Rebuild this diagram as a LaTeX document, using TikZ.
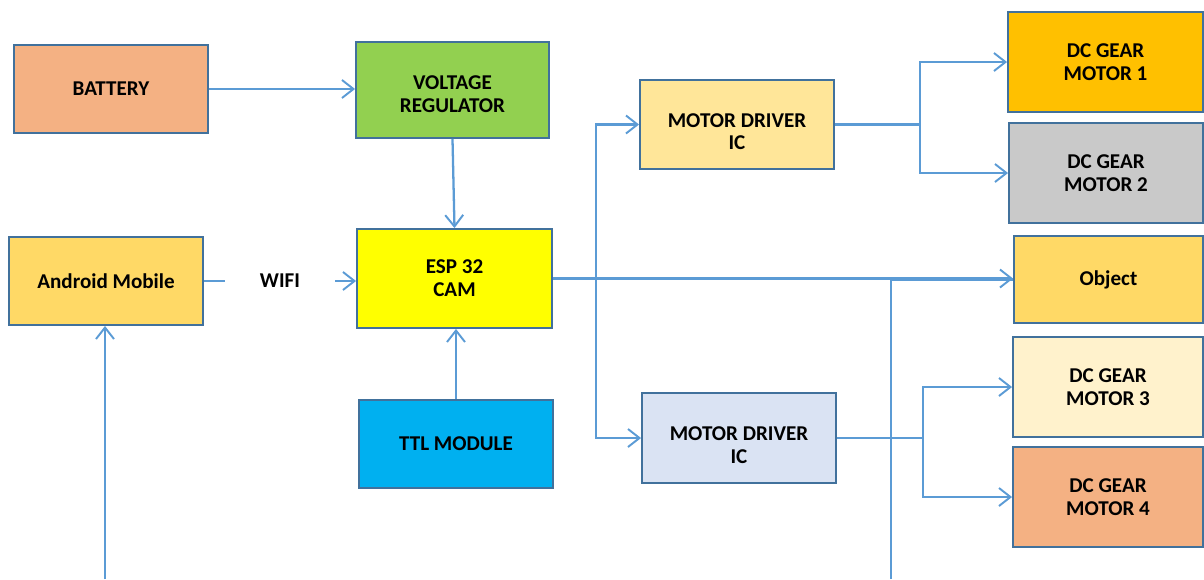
\documentclass[tikz,border=0pt]{standalone}
\usepackage{fontspec}
\setmainfont{Carlito}
\usetikzlibrary{arrows.meta}
\definecolor{boxline}{RGB}{65,113,156}
\definecolor{wire}{RGB}{91,155,213}
\definecolor{battfill}{RGB}{244,177,131}
\definecolor{regfill}{RGB}{146,208,80}
\definecolor{mobfill}{RGB}{255,217,102}
\definecolor{espfill}{RGB}{255,255,0}
\definecolor{ttlfill}{RGB}{0,176,240}
\definecolor{drvafill}{RGB}{255,230,153}
\definecolor{drvbfill}{RGB}{218,227,243}
\definecolor{motafill}{RGB}{255,192,0}
\definecolor{motbfill}{RGB}{201,201,201}
\definecolor{motcfill}{RGB}{255,242,204}

\begin{document}
\begin{tikzpicture}[x=0.02cm, y=-0.02cm,
    every node/.style={font=\bfseries\fontsize{12}{13}\selectfont},
    block/.style={draw=boxline, line width=1.1pt, inner sep=0pt, align=center, minimum width=3.88cm, minimum height=1.76cm},
    link/.style={draw=wire, line width=1.3pt, -{Straight Barb[length=2.3mm, width=3.6mm, line width=1.1pt]}},
    wireline/.style={draw=wire, line width=1.3pt}]
    \useasboundingbox (0,0) rectangle (1204,579);
    % left column and controller
    \node[block, fill=battfill] (bat) at (111,89) {BATTERY};
    \node[block, fill=regfill, minimum width=3.86cm, minimum height=1.92cm] (vreg) at (452.5,90) {\rule{0pt}{12.5pt}VOLTAGE\\REGULATOR};
    \node[block, fill=mobfill] (mob) at (106,281) {Android Mobile};
    \node[block, fill=espfill, minimum width=3.9cm, minimum height=1.98cm] (esp) at (454.5,278.5) {ESP 32\\CAM};
    \node[block, fill=ttlfill] (ttl) at (456,444) {TTL MODULE};
    % motor drivers
    \node[block, fill=drvafill, minimum height=1.78cm] (drvA) at (737,124.5) {\rule{0pt}{16pt}MOTOR DRIVER\\IC};
    \node[block, fill=drvbfill, minimum height=1.8cm] (drvB) at (739,438) {\rule{0pt}{16pt}MOTOR DRIVER\\IC};
    % outputs
    \node[block, fill=motafill, minimum width=3.9cm, minimum height=2cm] (mot1) at (1105.5,62) {DC GEAR\\MOTOR 1};
    \node[block, fill=motbfill, minimum height=2cm] (mot2) at (1106,173) {DC GEAR\\MOTOR 2};
    \node[block, fill=mobfill, minimum width=3.78cm, minimum height=1.74cm] (obj) at (1108.5,279.5) {Object};
    \node[block, fill=motcfill, minimum width=3.8cm, minimum height=2cm] (mot3) at (1108,387) {DC GEAR\\MOTOR 3};
    \node[block, fill=battfill, minimum width=3.8cm, minimum height=2cm] (mot4) at (1108,497) {DC GEAR\\MOTOR 4};
    % junctions and free ends
    \coordinate (busJ) at (596,278.5);
    \coordinate (forkA) at (920,124.5);
    \coordinate (forkB) at (923,438);
    \coordinate (mobIn) at (105,579);
    \coordinate (objIn) at (891,579);
    % connectors
    \draw[link] (bat.east) -- (bat.east -| vreg.west);
    \draw[link] (vreg.south) -- (esp.north);
    \draw[link] (mob.east) -- node[fill=white, minimum width=2.2cm, inner sep=0pt]{WIFI} (mob.east -| esp.west);
    \draw[link] (ttl.north) -- (ttl.north |- esp.south);
    \draw[wireline] (objIn) |- (obj.west);
    \draw[link] (esp.east) -- (esp.east -| obj.west);
    \draw[link] (busJ) |- (drvA.west);
    \draw[link] (busJ) |- (drvB.west);
    \draw[wireline] (drvA.east) -- (forkA);
    \draw[link] (forkA) |- (mot1.west);
    \draw[link] (forkA) |- (mot2.west);
    \draw[wireline] (drvB.east) -- (forkB);
    \draw[link] (forkB) |- (mot3.west);
    \draw[link] (forkB) |- (mot4.west);
    \draw[link] (mobIn) -- (mobIn |- mob.south);
\end{tikzpicture}
\end{document}
